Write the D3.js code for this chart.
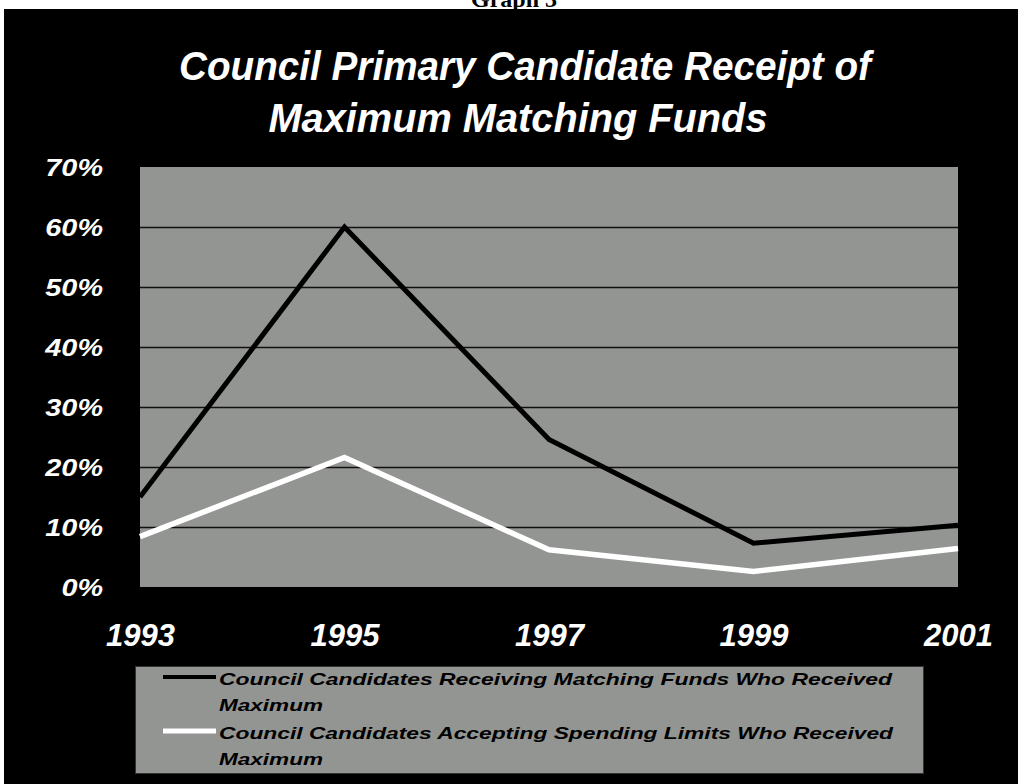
<!doctype html>
<html>
<head>
<meta charset="utf-8">
<script src="https://cdn.jsdelivr.net/npm/d3@7"></script>
<style>
    body { margin: 0; background: #ffffff; }
    svg { display: block; }
</style>
</head>
<body>
<script>
const years = ['1993', '1995', '1997', '1999', '2001']
const receivingMatch = [15, 60, 24.6, 7.3, 10.3]
const acceptingLimits = [8.4, 21.6, 6.2, 2.6, 6.4]
const yTicks = [0, 10, 20, 30, 40, 50, 60, 70]
const titleLines = ['Council Primary Candidate Receipt of', 'Maximum Matching Funds']
const legendNames = [
    ['Council Candidates Receiving Matching Funds Who Received', 'Maximum'],
    ['Council Candidates Accepting Spending Limits Who Received', 'Maximum']
]

const w = 1018
const h = 784
const plot = { left: 140, right: 958, top: 167, bottom: 587 }
const gray = '#939592'

let svg = d3.select('body')
    .append('svg')
    .attr('width', w)
    .attr('height', h)

// caption above the black panel, its top is off the page like in the scan
svg.append('text')
    .attr('x', 514)
    .attr('y', 7)
    .attr('text-anchor', 'middle')
    .attr('font-family', '"Liberation Serif", serif')
    .attr('font-weight', 'bold')
    .attr('font-size', '24px')
    .attr('fill', '#000')
    .text('Graph 3')

svg.append('rect')
    .attr('x', 4)
    .attr('y', 9)
    .attr('width', w - 4)
    .attr('height', h - 9)
    .attr('fill', '#000')

//title
const titleX = [525, 518]
const titleLen = [692, 499]
svg.selectAll('.title')
    .data(titleLines)
    .enter()
    .append('text')
    .attr('class', 'title')
    .attr('x', (d, i) => titleX[i])
    .attr('y', (d, i) => 80 + i * 52)
    .attr('text-anchor', 'middle')
    .attr('font-family', '"Liberation Sans", Arial, sans-serif')
    .attr('font-weight', 'bold')
    .attr('font-style', 'italic')
    .attr('font-size', '40px')
    .attr('fill', '#fff')
    .attr('textLength', (d, i) => titleLen[i])
    .attr('lengthAdjust', 'spacingAndGlyphs')
    .text(d => d)

const x = d3.scalePoint()
    .domain(years)
    .range([plot.left, plot.right])
const y = d3.scaleLinear()
    .domain([0, 70])
    .range([plot.bottom, plot.top])

svg.append('rect')
    .attr('x', plot.left)
    .attr('y', plot.top)
    .attr('width', plot.right - plot.left)
    .attr('height', plot.bottom - plot.top)
    .attr('fill', gray)

// gridlines, no domain line
const yAxis = svg.append('g')
    .attr('transform', 'translate(' + plot.left + ',0)')
    .call(d3.axisLeft(y).tickValues(yTicks).tickSize(-(plot.right - plot.left)).tickFormat(d => d + '%').tickPadding(37))
yAxis.select('.domain').remove()
yAxis.selectAll('line')
    .attr('stroke', d => (d == 0 || d == 70) ? 'none' : '#111')
    .attr('stroke-width', 1.5)
yAxis.selectAll('text')
    .attr('fill', '#fff')
    .attr('font-family', '"Liberation Sans", Arial, sans-serif')
    .attr('font-weight', 'bold')
    .attr('font-style', 'italic')
    .attr('font-size', '24px')
    .attr('dy', '0.34em')
    .each(function () {
        const len = this.getComputedTextLength()
        d3.select(this).attr('textLength', len * 1.2).attr('lengthAdjust', 'spacingAndGlyphs')
    })

const xAxis = svg.append('g')
    .attr('transform', 'translate(0,' + plot.bottom + ')')
    .call(d3.axisBottom(x).tickSize(0).tickPadding(0))
xAxis.select('.domain').remove()
xAxis.selectAll('text')
    .attr('y', 59)
    .attr('dy', 0)
    .attr('fill', '#fff')
    .attr('font-family', '"Liberation Sans", Arial, sans-serif')
    .attr('font-weight', 'bold')
    .attr('font-style', 'italic')
    .attr('font-size', '31px')

const line = d3.line()
    .x((d, i) => x(years[i]))
    .y(d => y(d))

svg.append('path')
    .datum(acceptingLimits)
    .attr('d', line)
    .attr('fill', 'none')
    .attr('stroke', '#fff')
    .attr('stroke-width', 5.5)
svg.append('path')
    .datum(receivingMatch)
    .attr('d', line)
    .attr('fill', 'none')
    .attr('stroke', '#000')
    .attr('stroke-width', 5)

//legend
const legend = svg.append('g')
legend.append('rect')
    .attr('x', 135.5)
    .attr('y', 666.5)
    .attr('width', 788)
    .attr('height', 107)
    .attr('fill', gray)
    .attr('stroke', '#333')
    .attr('stroke-width', 1)

const legendColors = ['#000', '#fff']
const legendWidths = [4, 5]
const legendY = [677, 731]
const lineWidths = [673, 674]
legendNames.forEach((names, i) => {
    legend.append('line')
        .attr('x1', 163)
        .attr('x2', 216)
        .attr('y1', legendY[i])
        .attr('y2', legendY[i])
        .attr('stroke', legendColors[i])
        .attr('stroke-width', legendWidths[i])
    legend.selectAll('.lt' + i)
        .data(names)
        .enter()
        .append('text')
        .attr('class', 'lt' + i)
        .attr('x', 219)
        .attr('y', (d, j) => legendY[i] + 8 + j * 26)
        .attr('font-family', '"Liberation Sans", Arial, sans-serif')
        .attr('font-weight', 'bold')
        .attr('font-style', 'italic')
        .attr('font-size', '17px')
        .attr('fill', '#000')
        .attr('textLength', (d, j) => j == 0 ? lineWidths[i] : 104)
        .attr('lengthAdjust', 'spacingAndGlyphs')
        .text(d => d)
})
</script>
</body>
</html>
